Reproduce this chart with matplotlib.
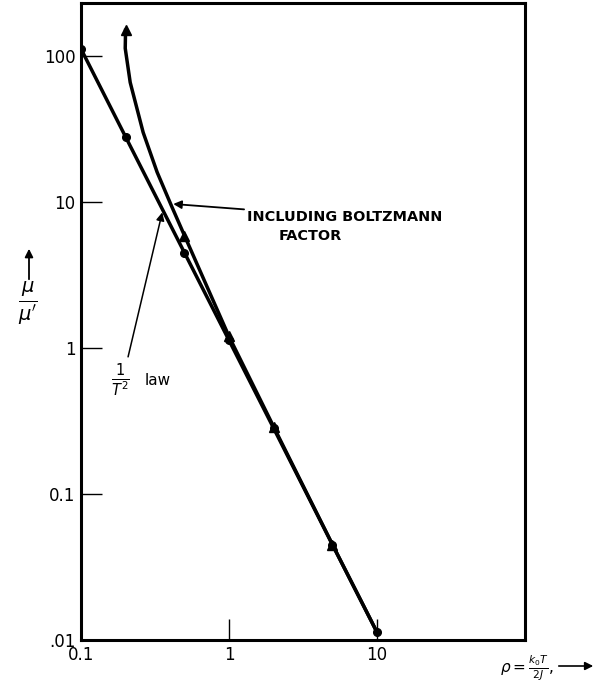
import matplotlib
matplotlib.use("Agg")
import matplotlib.pyplot as plt
from matplotlib.ticker import FixedLocator, NullLocator

# ---- data ----
rho_law = [0.1, 0.2, 0.5, 1, 2, 5, 10]
mu_law = [112, 28, 4.5, 1.13, 0.283, 0.045, 0.0113]

rho_boltz_pts = [0.2, 0.5, 1, 2, 5]
mu_boltz_pts = [150, 5.9, 1.2, 0.29, 0.045]

rho_boltz_curve = [0.2, 0.199, 0.215, 0.263, 0.327, 0.407, 0.5, 1, 2, 5, 10]
mu_boltz_curve = [150, 113, 66, 30, 16, 9.5, 5.9, 1.2, 0.29, 0.045, 0.0113]

x_ticks = [0.1, 1, 10]
x_ticklabels = ["0.1", "1", "10"]
y_ticks = [0.01, 0.1, 1, 10, 100]
y_ticklabels = [".01", "0.1", "1", "10", "100"]

fig = plt.figure(figsize=(5.97, 6.85), dpi=100)
ax = fig.add_axes([81 / 597, 1 - 640 / 685, (525 - 81) / 597, (640 - 3) / 685])
ax.set_xscale("log")
ax.set_yscale("log")
ax.set_xlim(0.1, 100)
ax.set_ylim(0.01, 231)

lw = 2.5
ax.plot(rho_law, mu_law, color="black", lw=lw, marker="o", ms=5.5, zorder=3)
ax.plot(rho_boltz_curve, mu_boltz_curve, color="black", lw=lw, zorder=3)
ax.plot(rho_boltz_pts, mu_boltz_pts, ls="none", color="black", marker="^", ms=6.5, zorder=4)

for s in ax.spines.values():
    s.set_linewidth(2.2)

ax.xaxis.set_major_locator(FixedLocator(x_ticks))
ax.yaxis.set_major_locator(FixedLocator(y_ticks))
ax.xaxis.set_minor_locator(NullLocator())
ax.yaxis.set_minor_locator(NullLocator())
ax.set_xticklabels(x_ticklabels)
ax.set_yticklabels(y_ticklabels)
ax.tick_params(axis="both", which="major", direction="in", length=15, width=1.0,
               labelsize=12, pad=4)

# annotations
ax.annotate("INCLUDING BOLTZMANN", xy=(0.42, 9.7), xytext=(1.32, 7.9),
            fontsize=10.4, fontweight="bold", ha="left", va="center",
            arrowprops=dict(arrowstyle="-|>", color="black", lw=1.3,
                            mutation_scale=12, shrinkA=0, shrinkB=0))
ax.text(2.18, 5.85, "FACTOR", fontsize=10.4, fontweight="bold", ha="left", va="center")

ax.annotate("", xy=(0.354, 8.5), xytext=(0.208, 0.87),
            arrowprops=dict(arrowstyle="-|>", color="black", lw=1.1,
                            mutation_scale=12, shrinkA=0, shrinkB=0))
ax.text(0.185, 0.6, r"$\frac{1}{T^2}$", fontsize=15, ha="center", va="center")
ax.text(0.33, 0.6, "law", fontsize=11, ha="center", va="center")

# y label: arrow + mu/mu'
fig.text(28 / 597, 1 - 303 / 685, r"$\frac{\mu}{\mu^{\prime}}$", fontsize=20,
         ha="center", va="center")
fig.add_artist(matplotlib.patches.FancyArrowPatch(
    (29 / 597, 1 - 282 / 685), (29 / 597, 1 - 246 / 685),
    transform=fig.transFigure, arrowstyle="-|>", mutation_scale=12,
    color="black", lw=1.3))

# x label
fig.text(500 / 597, 1 - 668 / 685, r"$\rho = \frac{k_0 T}{2J}$,", fontsize=11,
         ha="left", va="center")
fig.add_artist(matplotlib.patches.FancyArrowPatch(
    (556 / 597, 1 - 666 / 685), (596 / 597, 1 - 666 / 685),
    transform=fig.transFigure, arrowstyle="-|>", mutation_scale=12,
    color="black", lw=1.2))

fig.savefig("out.png", dpi=100)
